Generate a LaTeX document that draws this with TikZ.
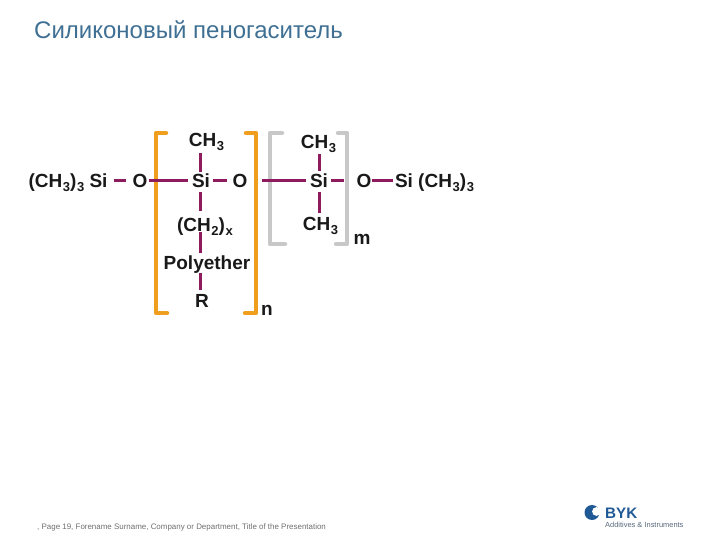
\documentclass[tikz,border=0pt]{standalone}
\usepackage{fontspec}
\setmainfont{Liberation Sans}
\definecolor{bondc}{HTML}{8E1B5E}
\definecolor{orangeb}{HTML}{F09E1E}
\definecolor{grayb}{HTML}{C8C8C8}
\definecolor{titlec}{HTML}{3F7093}
\definecolor{footc}{HTML}{6E6E6E}
\definecolor{bykc}{HTML}{1F5A96}
\newcommand{\sbs}[1]{\raisebox{-4pt}{\fontsize{13}{14}\selectfont\kern0.6pt #1}}
\tikzset{
  chem/.style={font=\fontsize{19}{19}\selectfont\bfseries, inner sep=0pt, anchor=base, text=black!90},
  bond/.style={draw=bondc, line width=3pt},
  brko/.style={draw=orangeb, line width=4.5pt, line cap=round, line join=round},
  brkg/.style={draw=grayb, line width=4.5pt, line cap=round, line join=round},
}
\begin{document}
\begin{tikzpicture}[x=1pt,y=-1pt]
\useasboundingbox (0,0) rectangle (720,540);
\node[font=\fontsize{24}{24}\selectfont, text=titlec, inner sep=0pt, anchor=base west] (title) at (34,39) {Силиконовый пеногаситель};

% brackets
\draw[brko] (166,133) -- (156,133) -- (156,313) -- (167,313);
\draw[brko] (246,133) -- (256,133) -- (256,313) -- (245,313);
\draw[brkg] (282,133) -- (270,133) -- (270,244) -- (285,244);
\draw[brkg] (338,133) -- (347,133) -- (347,244) -- (336,244);

% text
\node[chem] (me3l) at (68,188) {(CH\sbs{3})\sbs{3} Si};
\node[chem] (ol) at (140,188) {O};
\node[chem] (ch1) at (206.5,147) {CH\sbs{3}};
\node[chem] (si1) at (201,188) {Si};
\node[chem] (o2) at (240,188) {O};
\node[chem] (chx) at (205,232) {(CH\sbs{2})\sbs{x}};
\node[chem] (pe) at (207,269) {Polyether};
\node[chem] (r) at (202,307) {R};
\node[chem] (n) at (267,315) {n};
\node[chem] (ch2) at (318.5,149) {CH\sbs{3}};
\node[chem] (si2) at (319,188) {Si};
\node[chem] (ch3) at (320.5,230) {CH\sbs{3}};
\node[chem] (m) at (362,244) {m};
\node[chem] (or) at (364,188) {O};
\node[chem] (me3r) at (434.5,188) {Si (CH\sbs{3})\sbs{3}};

% axes of the bonds
\coordinate (axh) at (0,181);
\coordinate (axa) at (200,0);
\coordinate (axb) at (319,0);

% bonds
\draw[bond,shorten <=6pt,shorten >=6pt] (me3l.east |- axh) -- (ol.west |- axh);
\draw[bond,shorten <=1.6pt,shorten >=4pt] (ol.east |- axh) -- (si1.west |- axh);
\draw[bond,shorten <=3pt,shorten >=5.6pt] (si1.east |- axh) -- (o2.west |- axh);
\draw[bond,shorten <=14.6pt,shorten >=4pt] (o2.east |- axh) -- (si2.west |- axh);
\draw[bond,shorten <=3pt,shorten >=12.6pt] (si2.east |- axh) -- (or.west |- axh);
\draw[bond,shorten >=2pt] (or.east |- axh) -- (me3r.west |- axh);
\draw[bond,shorten <=1.5pt,shorten >=2pt] (axa |- ch1.south) -- (axa |- si1.north);
\draw[bond,shorten <=4pt,shorten >=7pt] (axa |- si1.south) -- (axa |- chx.north);
\draw[bond,shorten <=-4pt,shorten >=2pt] (axa |- chx.south) -- (axa |- pe.north);
\draw[bond,shorten >=4pt] (axa |- pe.south) -- (axa |- r.north);
\draw[bond,shorten <=0.5pt,shorten >=3pt] (axb |- ch2.south) -- (axb |- si2.north);
\draw[bond,shorten <=4pt,shorten >=4pt] (axb |- si2.south) -- (axb |- ch3.north);

% footer
\node[font=\fontsize{7.95}{9}\selectfont, text=footc, inner sep=0pt, anchor=base west] (foot) at (37,529) {, Page 19, Forename Surname, Company or Department, Title of the Presentation};

% logo
\fill[bykc] (592,512.5) circle (7.5);
\fill[white] (596.5,511.5) circle (4.4);
\node[font=\fontsize{15.2}{15}\selectfont\bfseries, text=bykc, inner sep=0pt, anchor=base west] (byk) at (605,518) {BYK};
\node[font=\fontsize{7.45}{8}\selectfont, text=footc!70!bykc, inner sep=0pt, anchor=base west] (add) at (605,527) {Additives \& Instruments};
\end{tikzpicture}
\end{document}
